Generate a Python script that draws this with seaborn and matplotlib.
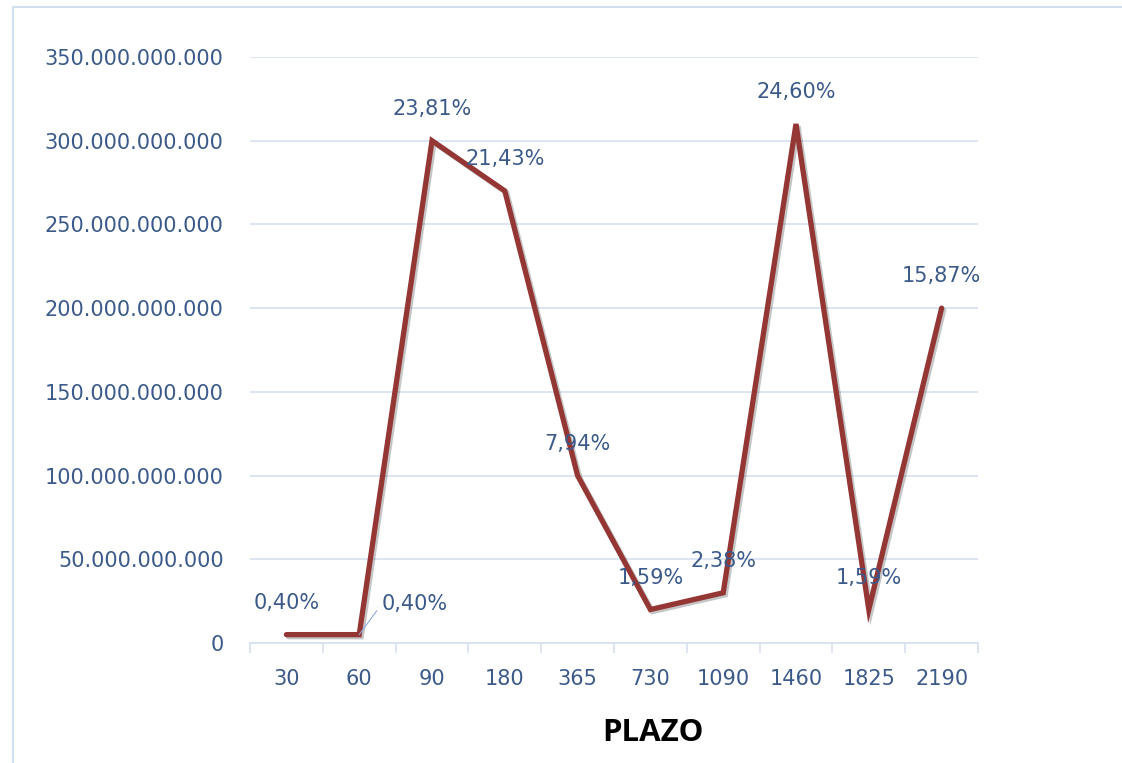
import matplotlib
matplotlib.use("Agg")
import matplotlib.pyplot as plt
import matplotlib.patheffects as pe
from matplotlib.ticker import FuncFormatter, FixedLocator
import seaborn as sns
import pandas as pd

# data
plazo = ["30", "60", "90", "180", "365", "730", "1090", "1460", "1825", "2190"]
monto = [5e9, 5e9, 300e9, 270e9, 100e9, 20e9, 30e9, 310e9, 20e9, 200e9]
etiquetas = ["0,40%", "0,40%", "23,81%", "21,43%", "7,94%", "1,59%", "2,38%", "24,60%", "1,59%", "15,87%"]

LINE = "#943634"
TXT = "#3B5A8A"
GRID = "#D5E0EF"
FS = 15

sns.set_theme(style="white")
plt.rcParams["font.family"] = ["DejaVu Sans"]

df = pd.DataFrame({"plazo": plazo, "monto": monto})

fig = plt.figure(figsize=(11.22, 7.63), dpi=100)
ax = fig.add_axes([250 / 1122, 1 - 643 / 763, 728 / 1122, 586 / 763])

sns.lineplot(data=df, x="plazo", y="monto", ax=ax, color=LINE, linewidth=3.8,
             sort=False, solid_joinstyle="miter",
             path_effects=[pe.SimpleLineShadow(offset=(1.5, -1.5), alpha=0.25), pe.Normal()])

ax.set_xlim(-0.5, len(plazo) - 0.5)
ax.set_ylim(0, 350e9)
ax.set_yticks([i * 50e9 for i in range(8)])
ax.yaxis.set_major_formatter(FuncFormatter(lambda v, p: f"{v:,.0f}".replace(",", ".")))
ax.grid(axis="y", color=GRID, linewidth=1.2)
ax.grid(axis="x", visible=False)

for s in ["top", "right", "left"]:
    ax.spines[s].set_visible(False)
ax.spines["bottom"].set_color(GRID)
ax.spines["bottom"].set_linewidth(1.2)

ax.xaxis.set_minor_locator(FixedLocator([i - 0.5 for i in range(len(plazo) + 1)]))
ax.tick_params(axis="x", which="minor", length=7, width=1.2, color=GRID, bottom=True)
ax.tick_params(axis="x", which="major", length=0, pad=19, labelsize=FS, labelcolor=TXT)
ax.tick_params(axis="y", length=0, pad=19, labelsize=FS, labelcolor=TXT)

ax.set_xlabel("PLAZO", fontsize=22.5, fontweight="bold", color="black",
              family=["Open Sans", "DejaVu Sans"])
ax.xaxis.set_label_coords((653 - 250) / 728, -(733 - 643) / 586)
ax.xaxis.label.set_va("center")
ax.set_ylabel("")

# data labels (percent of total)
for i, (v, lab) in enumerate(zip(monto, etiquetas)):
    if i == 1:
        ax.annotate(lab, xy=(i, v), xytext=(40, 22), textcoords="offset points",
                    ha="center", va="center", fontsize=FS, color=TXT,
                    arrowprops=dict(arrowstyle="-", color="#8FAADC", lw=0.8,
                                    shrinkA=2, shrinkB=0, relpos=(0, 0.5)))
    else:
        ax.annotate(lab, xy=(i, v), xytext=(0, 23), textcoords="offset points",
                    ha="center", va="center", fontsize=FS, color=TXT)

# chart area border
fig.add_artist(plt.Line2D([13 / 1122, 13 / 1122], [0, 1 - 7 / 763], color="#D3DEEE", lw=1.5))
fig.add_artist(plt.Line2D([13 / 1122, 1], [1 - 7 / 763, 1 - 7 / 763], color="#D3DEEE", lw=1.5))

fig.savefig("out.png", dpi=100)
